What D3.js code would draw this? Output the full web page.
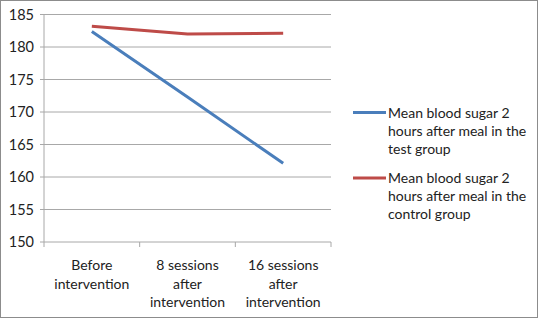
<!DOCTYPE html>
<html><head><meta charset="utf-8">
<script src="https://cdn.jsdelivr.net/npm/d3@7"></script>
<style>html,body{margin:0;padding:0;background:#fff;}svg{display:block;}</style>
</head><body>
<script>
const categories = [["Before","intervention"],["8 sessions","after","intervention"],["16 sessions","after","intervention"]];
const testGroup = [182.4, 172.3, 162.1];
const controlGroup = [183.2, 182.0, 182.1];
const yTicks = [150,155,160,165,170,175,180,185];
const seriesNames = [["Mean blood sugar 2","hours after meal in the","test group"],["Mean  blood sugar 2","hours after meal in the","control group"]];
const colors = ["#4A7EBB","#BE4B48"];

const W=538,H=318;
const svg=d3.select("body").append("svg").attr("width",W).attr("height",H);
svg.append("rect").attr("x",0.5).attr("y",0.5).attr("width",W-1).attr("height",H-1).attr("fill","#fff").attr("stroke","#8c8c8c");
const font="Lato, 'Open Sans', sans-serif";
const pLeft=44,pRight=331,pTop=14.5,pBottom=242;
const x=d3.scaleBand().domain(d3.range(categories.length)).range([pLeft,pRight]);
const y=d3.scaleLinear().domain([150,185]).range([pBottom,pTop]);

const g=svg.append("g");
g.selectAll("line.grid").data(yTicks).join("line").attr("class","grid")
 .attr("x1",pLeft-4).attr("x2",pRight).attr("y1",d=>y(d)).attr("y2",d=>y(d))
 .attr("stroke","#a8a8a8").attr("stroke-width",1);
g.append("line").attr("x1",pLeft).attr("x2",pLeft).attr("y1",pTop).attr("y2",pBottom).attr("stroke","#a8a8a8");
g.selectAll("text.yt").data(yTicks).join("text").attr("class","yt")
 .attr("x",34).attr("y",d=>y(d)).attr("dy","0.35em").attr("text-anchor","end")
 .attr("font-family",font).attr("font-size",14.5).attr("fill","#222").text(d=>d);
const bounds=d3.range(categories.length+1).map(i=>pLeft+i*x.step());
g.selectAll("line.ct").data(bounds).join("line").attr("class","ct")
 .attr("x1",d=>d).attr("x2",d=>d).attr("y1",pBottom).attr("y2",pBottom+5).attr("stroke","#a8a8a8");
categories.forEach((lines,i)=>{
  const t=g.append("text").attr("text-anchor","middle").attr("font-family",font).attr("font-size",14).attr("fill","#222");
  lines.forEach((l,j)=>t.append("tspan").attr("x",x(i)+x.bandwidth()/2).attr("y",270+j*18.5).text(l));
});
const line=d3.line().x((d,i)=>x(i)+x.bandwidth()/2).y(d=>y(d));
[testGroup,controlGroup].forEach((s,k)=>{
  g.append("path").datum(s).attr("d",line).attr("fill","none").attr("stroke",colors[k]).attr("stroke-width",3).attr("stroke-linejoin","round");
});
const legY=[112.5,178];
seriesNames.forEach((lines,k)=>{
  g.append("line").attr("x1",353).attr("x2",386).attr("y1",legY[k]).attr("y2",legY[k]).attr("stroke",colors[k]).attr("stroke-width",3);
  const t=g.append("text").attr("font-family",font).attr("font-size",14).attr("fill","#222");
  lines.forEach((l,j)=>t.append("tspan").attr("x",388).attr("y",legY[k]+5+j*18).text(l));
});
</script>
</body></html>
